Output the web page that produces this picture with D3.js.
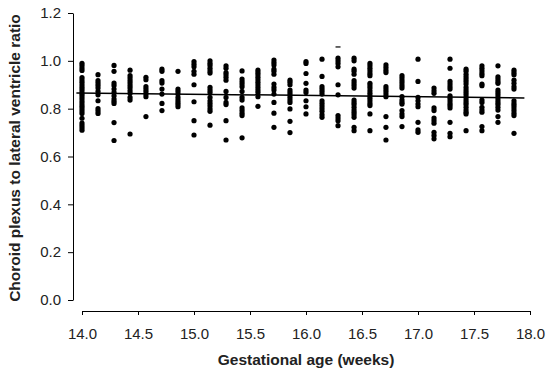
<!DOCTYPE html>
<html>
<head>
<meta charset="utf-8">
<script src="https://cdn.jsdelivr.net/npm/d3@7"></script>
<style>
  body { margin: 0; background: #fff; }
  text { font-family: Arial, "Liberation Sans", sans-serif; }
</style>
</head>
<body>
<svg id="chart" width="550" height="374"></svg>
<script>
// gestational age (weeks), one column per day
const weeks = [14.000, 14.143, 14.286, 14.429, 14.571, 14.714, 14.857,
  15.000, 15.143, 15.286, 15.429, 15.571, 15.714, 15.857,
  16.000, 16.143, 16.286, 16.429, 16.571, 16.714, 16.857,
  17.000, 17.143, 17.286, 17.429, 17.571, 17.714, 17.857];

// choroid plexus / lateral ventricle ratio per column
const ratios = [
  [0.99, 0.98, 0.97, 0.96, 0.93, 0.92, 0.91, 0.90, 0.89, 0.88, 0.87, 0.86, 0.85, 0.84, 0.83, 0.82, 0.81, 0.80, 0.79, 0.78, 0.76, 0.74, 0.73, 0.72, 0.71],
  [0.942, 0.917, 0.907, 0.897, 0.886, 0.872, 0.858, 0.833, 0.80, 0.79, 0.78],
  [0.981, 0.956, 0.907, 0.897, 0.882, 0.868, 0.854, 0.84, 0.831, 0.822, 0.742, 0.667],
  [0.961, 0.938, 0.928, 0.917, 0.907, 0.896, 0.886, 0.875, 0.864, 0.847, 0.836, 0.694],
  [0.931, 0.921, 0.892, 0.882, 0.872, 0.861, 0.85, 0.767],
  [0.965, 0.956, 0.917, 0.907, 0.882, 0.861, 0.822, 0.792],
  [0.956, 0.882, 0.872, 0.861, 0.847, 0.836, 0.826, 0.817, 0.808],
  [0.997, 0.986, 0.975, 0.956, 0.944, 0.90, 0.829, 0.75, 0.69],
  [1.0, 0.99, 0.981, 0.969, 0.958, 0.949, 0.889, 0.878, 0.868, 0.847, 0.833, 0.822, 0.811, 0.799, 0.789, 0.731],
  [0.979, 0.969, 0.951, 0.942, 0.931, 0.919, 0.872, 0.847, 0.826, 0.817, 0.75, 0.669],
  [0.958, 0.924, 0.913, 0.903, 0.892, 0.872, 0.847, 0.836, 0.803, 0.792, 0.781, 0.771, 0.678],
  [0.961, 0.951, 0.942, 0.931, 0.921, 0.91, 0.90, 0.889, 0.878, 0.868, 0.85, 0.81],
  [1.003, 0.993, 0.983, 0.965, 0.956, 0.944, 0.903, 0.889, 0.878, 0.861, 0.826, 0.781, 0.722],
  [0.919, 0.91, 0.90, 0.878, 0.868, 0.858, 0.847, 0.836, 0.826, 0.799, 0.747, 0.70],
  [0.997, 0.989, 0.947, 0.906, 0.878, 0.868, 0.833, 0.808, 0.778],
  [1.007, 0.935, 0.892, 0.882, 0.872, 0.861, 0.833, 0.822, 0.811, 0.80, 0.789, 0.775, 0.764],
  [1.011, 1.0, 0.989, 0.975, 0.90, 0.858, 0.771, 0.761, 0.75, 0.729],
  [1.011, 1.0, 0.965, 0.956, 0.944, 0.917, 0.907, 0.897, 0.886, 0.836, 0.826, 0.817, 0.806, 0.794, 0.785, 0.775, 0.764, 0.722, 0.708],
  [0.989, 0.979, 0.969, 0.958, 0.947, 0.938, 0.906, 0.896, 0.886, 0.875, 0.864, 0.854, 0.844, 0.833, 0.822, 0.813, 0.778, 0.708],
  [0.983, 0.972, 0.961, 0.951, 0.892, 0.882, 0.872, 0.861, 0.85, 0.767, 0.722, 0.669],
  [0.938, 0.928, 0.917, 0.907, 0.896, 0.886, 0.85, 0.836, 0.826, 0.819, 0.792, 0.778, 0.767, 0.725],
  [1.007, 0.914, 0.847, 0.833, 0.819, 0.808, 0.743, 0.711, 0.701],
  [0.886, 0.875, 0.864, 0.803, 0.792, 0.761, 0.75, 0.739, 0.701, 0.688, 0.674],
  [1.007, 0.969, 0.914, 0.903, 0.892, 0.882, 0.854, 0.844, 0.833, 0.822, 0.813, 0.803, 0.743, 0.697, 0.683],
  [0.965, 0.956, 0.944, 0.933, 0.924, 0.914, 0.903, 0.889, 0.878, 0.868, 0.858, 0.847, 0.836, 0.826, 0.817, 0.806, 0.794, 0.785, 0.778, 0.708],
  [0.979, 0.969, 0.958, 0.947, 0.938, 0.903, 0.896, 0.836, 0.826, 0.806, 0.794, 0.785, 0.725, 0.708],
  [0.979, 0.933, 0.924, 0.914, 0.906, 0.878, 0.868, 0.858, 0.847, 0.836, 0.826, 0.817, 0.806, 0.794, 0.767, 0.743],
  [0.961, 0.951, 0.942, 0.919, 0.906, 0.892, 0.882, 0.833, 0.822, 0.813, 0.803, 0.792, 0.781, 0.771, 0.697]
];

// clipped marker drawn as a dash above the 16.3 week column
const clipped = [[16.286, 1.058]];

// fitted regression line ends
const fitX = [13.95, 17.95];
const fitY = [0.866, 0.845];

const xTicks = [14.0, 14.5, 15.0, 15.5, 16.0, 16.5, 17.0, 17.5, 18.0];
const yTicks = [0.0, 0.2, 0.4, 0.6, 0.8, 1.0, 1.2];

const svg = d3.select("#chart");
const x = d3.scaleLinear().domain([14, 18]).range([82, 530]);
const y = d3.scaleLinear().domain([0, 1.2]).range([300, 13]);

const points = [];
weeks.forEach((w, i) => ratios[i].forEach(v => points.push({ w: w, v: v })));

// axes
const yAxis = svg.append("g").attr("transform", "translate(73,0)")
  .call(d3.axisLeft(y).tickValues(yTicks).tickFormat(d3.format(".1f")).tickSize(5).tickSizeOuter(0).tickPadding(7));
const xAxis = svg.append("g").attr("transform", "translate(0,311)")
  .call(d3.axisBottom(x).tickValues(xTicks).tickFormat(d3.format(".1f")).tickSize(4).tickSizeOuter(0).tickPadding(13));

[yAxis, xAxis].forEach(g => {
  g.selectAll("path, line").attr("stroke", "#000").attr("stroke-width", 1);
  g.selectAll("text").attr("fill", "#222").style("font-size", "15px");
});

// dots
svg.append("g").selectAll("circle").data(points).enter()
  .append("circle")
  .attr("cx", d => x(d.w))
  .attr("cy", d => y(d.v))
  .attr("r", 2.6)
  .attr("fill", "#000");

svg.append("g").selectAll("line").data(clipped).enter()
  .append("line")
  .attr("x1", d => x(d[0]) - 2.5).attr("x2", d => x(d[0]) + 2.5)
  .attr("y1", d => y(d[1])).attr("y2", d => y(d[1]))
  .attr("stroke", "#000").attr("stroke-width", 1.2);

// regression line
svg.append("line")
  .attr("x1", x(fitX[0])).attr("y1", y(fitY[0]))
  .attr("x2", x(fitX[1])).attr("y2", y(fitY[1]))
  .attr("stroke", "#000").attr("stroke-width", 1.5);

// axis titles
svg.append("text")
  .attr("x", 306).attr("y", 365)
  .attr("text-anchor", "middle")
  .style("font-size", "15.5px").style("font-weight", "bold").attr("fill", "#222")
  .text("Gestational age (weeks)");

svg.append("text")
  .attr("transform", "translate(20,158) rotate(-90)")
  .attr("text-anchor", "middle")
  .style("font-size", "15.5px").style("font-weight", "bold").attr("fill", "#222")
  .text("Choroid plexus to lateral ventricle ratio");
</script>
</body>
</html>
